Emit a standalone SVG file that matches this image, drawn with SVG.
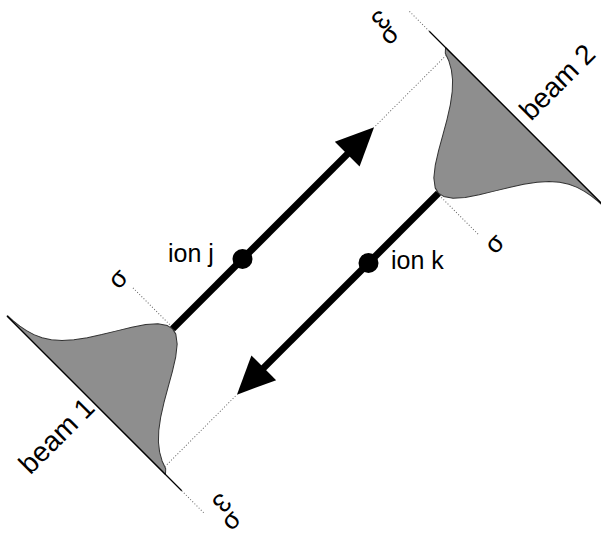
<svg xmlns="http://www.w3.org/2000/svg" width="601" height="536" viewBox="0 0 601 536">
<style>
  .base{stroke:#000;stroke-width:1.3;fill:none}
  .dotted{stroke:#666;stroke-width:1;stroke-dasharray:1 2;fill:none}
  .arrow{stroke:#000;stroke-width:7;fill:none}
  .head{fill:#000}
  .ball{fill:#000}
  .lbl{font-family:"Liberation Sans",Arial,sans-serif;font-size:28px;fill:#000}
  .ion{font-family:"Liberation Sans",Arial,sans-serif;font-size:25px;fill:#000}
  .sym{font-family:"Liberation Sans",Arial,sans-serif;font-size:26px;fill:#000}
</style>
<defs>
  <path id="gauss" fill="#8e8e8e" stroke="#333" stroke-width="1" stroke-linejoin="round"
    d="M-250,-172 L-249.4,-172 -248.9,-164 -248,-156 -246.5,-148 -244.1,-140 -240.5,-132 -235.4,-124 -228.4,-116 -219.5,-108 -208.6,-100 -196.1,-92 -182.8,-84 -169.7,-76 -157.9,-68 -148.7,-60 -143.3,-52 -142,-46 -143.4,-40 -149.5,-32 -159.5,-24 -172.3,-16 -186.3,-8 -200.1,0 -212.8,8 -223.5,16 -232,24 -238.3,32 -242.8,40 -245.7,48 -250,52 Z"/>
</defs>
<g transform="matrix(0.7071 -0.7071 0.7071 0.7071 305.5 261)">
  <g id="beam1">
    <use href="#gauss"/>
    <line class="base" x1="-250" y1="-172" x2="-250" y2="75"/>
    <text class="lbl" x="-253" y="-43" text-anchor="end">beam 1</text>
    <text class="sym" x="-153" y="-111.7">σ</text>
    <text class="sym"><tspan x="-223" y="103" rotate="180">3</tspan><tspan x="-244" y="139">σ</tspan></text>
  </g>
  <g id="beam2">
    <use href="#gauss" transform="rotate(180)"/>
    <line class="base" x1="250" y1="172" x2="250" y2="-75"/>
    <text class="lbl" x="258" y="61">beam 2</text>
    <text class="sym" x="138" y="129.8">σ</text>
    <text class="sym"><tspan x="231" y="-126" rotate="180">3</tspan><tspan x="211" y="-92.6">σ</tspan></text>
  </g>
  <g id="connectors">
    <line class="dotted" x1="-250" y1="75" x2="-250" y2="107"/>
    <line class="dotted" x1="-141" y1="-48" x2="-141" y2="-104"/>
    <line class="dotted" x1="-145" y1="46" x2="-246" y2="46"/>
    <line class="dotted" x1="250" y1="-75" x2="250" y2="-105"/>
    <line class="dotted" x1="141" y1="48" x2="141" y2="104"/>
    <line class="dotted" x1="145" y1="-46" x2="246" y2="-46"/>
    <line class="arrow" x1="-142" y1="-46" x2="108" y2="-46"/>
    <polygon class="head" points="143,-46 105,-63.5 105,-28.5"/>
    <line class="arrow" x1="142" y1="46" x2="-108" y2="46"/>
    <polygon class="head" points="-143,46 -105,63.5 -105,28.5"/>
  </g>
</g>
<g id="ion-j">
  <circle class="ball" cx="242.5" cy="259" r="10"/>
  <text class="ion" x="168" y="262">ion j</text>
</g>
<g id="ion-k">
  <circle class="ball" cx="368.5" cy="263" r="10"/>
  <text class="ion" x="391" y="269">ion k</text>
</g>
</svg>
